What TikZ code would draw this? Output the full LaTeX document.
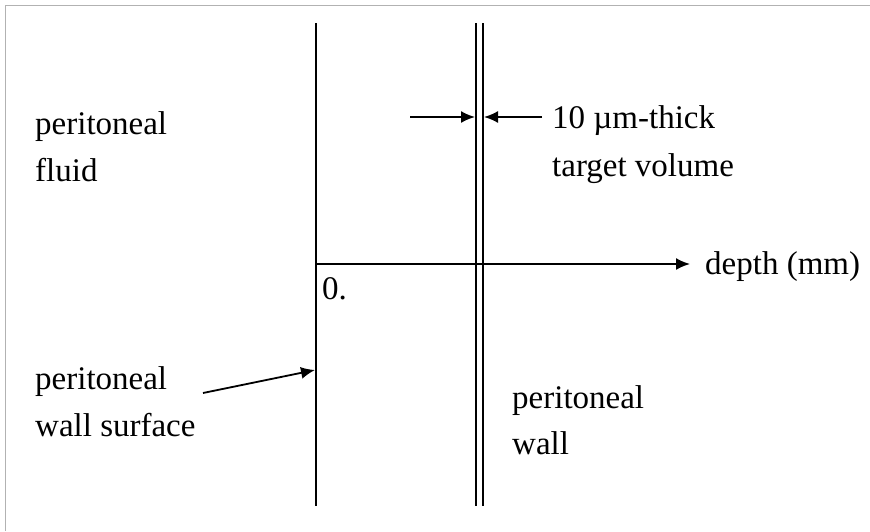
\documentclass[tikz,border=0pt]{standalone}
\usepackage{fontspec}
\setmainfont{Liberation Serif}
\usetikzlibrary{arrows.meta}
\begin{document}
\begin{tikzpicture}[x=1pt,y=-1pt,
  lbl/.style={anchor=base west,inner sep=0pt,font=\fontsize{33}{39}\selectfont},
  wall/.style={line width=2.4pt,black},
  arr/.style={line width=1.8pt,-{Latex[length=14pt,width=12pt]}},
  frame/.style={gray!60,line width=0.8pt}]
\useasboundingbox (0,0) rectangle (870,531);
% frame
\draw[frame] (5,531) -- (5,5) -- (870,5);
% walls
\coordinate (s1) at (316,23); \coordinate (s2) at (316,506);
\coordinate (a1) at (476,23); \coordinate (a2) at (476,506);
\coordinate (b1) at (483,23); \coordinate (b2) at (483,506);
\draw[wall] (s1) -- (s2);
\draw[wall] (a1) -- (a2);
\draw[wall] (b1) -- (b2);
% texts
\node[lbl] (pf1) at (35,134) {peritoneal};
\node[lbl] (pf2) at (35,181) {fluid};
\node[lbl] (tv1) at (552,128) {10 µm-thick};
\node[lbl] (tv2) at (552,176) {target volume};
\node[lbl] (dep) at (705,274) {depth (mm)};
\node[lbl] (zero) at (322,299) {0.};
\node[lbl] (ws1) at (35,389) {peritoneal};
\node[lbl] (ws2) at (35,436) {wall surface};
\node[lbl] (pw1) at (512,408) {peritoneal};
\node[lbl] (pw2) at (512,454) {wall};
% axis
\coordinate (ax0) at (316,264);
\coordinate (ax1) at (690,264);
\draw[arr] (ax0) -- (ax1);
% thickness arrows
\coordinate (l0) at (410,117); \coordinate (l1) at (475,117);
\coordinate (r0) at (542,117); \coordinate (r1) at (484,117);
\draw[arr] (l0) -- (l1);
\draw[arr] (r0) -- (r1);
% wall surface arrow
\coordinate (w0) at (203,393); \coordinate (w1) at (315,370);
\draw[arr] (w0) -- (w1);
\end{tikzpicture}
\end{document}
